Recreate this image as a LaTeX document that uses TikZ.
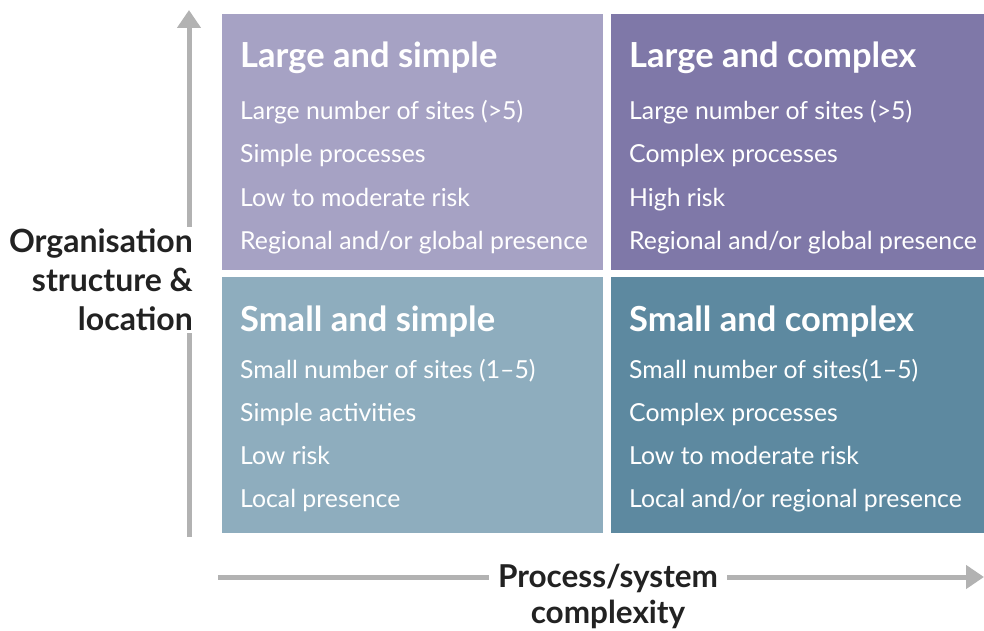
\documentclass[tikz,border=0pt]{standalone}
\usepackage{fontspec}
\setmainfont{Lato}
\usetikzlibrary{arrows.meta}
\definecolor{lgsimple}{RGB}{166,162,196}
\definecolor{lgcomplex}{RGB}{127,120,168}
\definecolor{smsimple}{RGB}{142,173,190}
\definecolor{smcomplex}{RGB}{93,137,160}
\definecolor{axisgray}{RGB}{178,178,178}
\definecolor{labeltext}{RGB}{34,34,34}

\begin{document}
\begin{tikzpicture}[x=1pt,y=-1pt,
  quad/.style={fill=#1,inner sep=0pt,outer sep=0pt,minimum height=256pt,anchor=north west},
  title/.style={anchor=base west,inner sep=0pt,text=white,font=\fontsize{34.5}{40}\selectfont\bfseries},
  item/.style={anchor=base west,inner sep=0pt,text=white,font=\fontsize{24.8}{29}\selectfont},
  axis/.style={draw=axisgray,line width=5pt,-{Triangle[width=23pt,length=18pt]}},
  axislabel/.style={fill=white,text=labeltext,font=\fontsize{32}{39}\selectfont\bfseries}]
  \useasboundingbox (0,0) rectangle (984,631);
  % axes
  \coordinate (ybot) at (189,537);
  \coordinate (ytop) at (189,10);
  \coordinate (xleft) at (218,577);
  \coordinate (xright) at (984,577);
  \draw[axis] (ybot) -- (ytop);
  \draw[axis] (xleft) -- (xright);
  \node[axislabel,align=right,anchor=east,inner xsep=1pt,inner ysep=2pt] (org) at (194,280) {Organisation\\structure \&\\location};
  \node[axislabel,align=center,inner xsep=9pt,inner ysep=0pt,font=\fontsize{31.5}{36}\selectfont\bfseries] (proc) at (608,596) {Process/system\\complexity};
  % quadrants
  \node[quad=lgsimple,minimum width=381pt] (ls) at (222,14) {};
  \node[quad=lgcomplex,minimum width=373pt] (lc) at (611,14) {};
  \node[quad=smsimple,minimum width=381pt] (ss) at (222,277) {};
  \node[quad=smcomplex,minimum width=373pt] (sc) at (611,277) {};
  % large and simple
  \node[title] (lst) at (240,68) {Large and simple};
  \node[item] at (240,120) {Large number of sites (>5)};
  \node[item] at (240,163) {Simple processes};
  \node[item] at (240,206) {Low to moderate risk};
  \node[item] at (240,249) {Regional and/or global presence};
  % large and complex
  \node[title] (lct) at (629,68) {Large and complex};
  \node[item] at (629,120) {Large number of sites (>5)};
  \node[item] at (629,163) {Complex processes};
  \node[item] at (629,206) {High risk};
  \node[item] at (629,249) {Regional and/or global presence};
  % small and simple
  \node[title] (sst) at (240,331) {Small and simple};
  \node[item] at (240,378) {Small number of sites (1–5)};
  \node[item] at (240,421) {Simple activities};
  \node[item] at (240,464) {Low risk};
  \node[item] at (240,507) {Local presence};
  % small and complex
  \node[title] (sct) at (629,331) {Small and complex};
  \node[item] at (629,378) {Small number of sites(1–5)};
  \node[item] at (629,421) {Complex processes};
  \node[item] at (629,464) {Low to moderate risk};
  \node[item] at (629,507) {Local and/or regional presence};
\end{tikzpicture}
\end{document}
